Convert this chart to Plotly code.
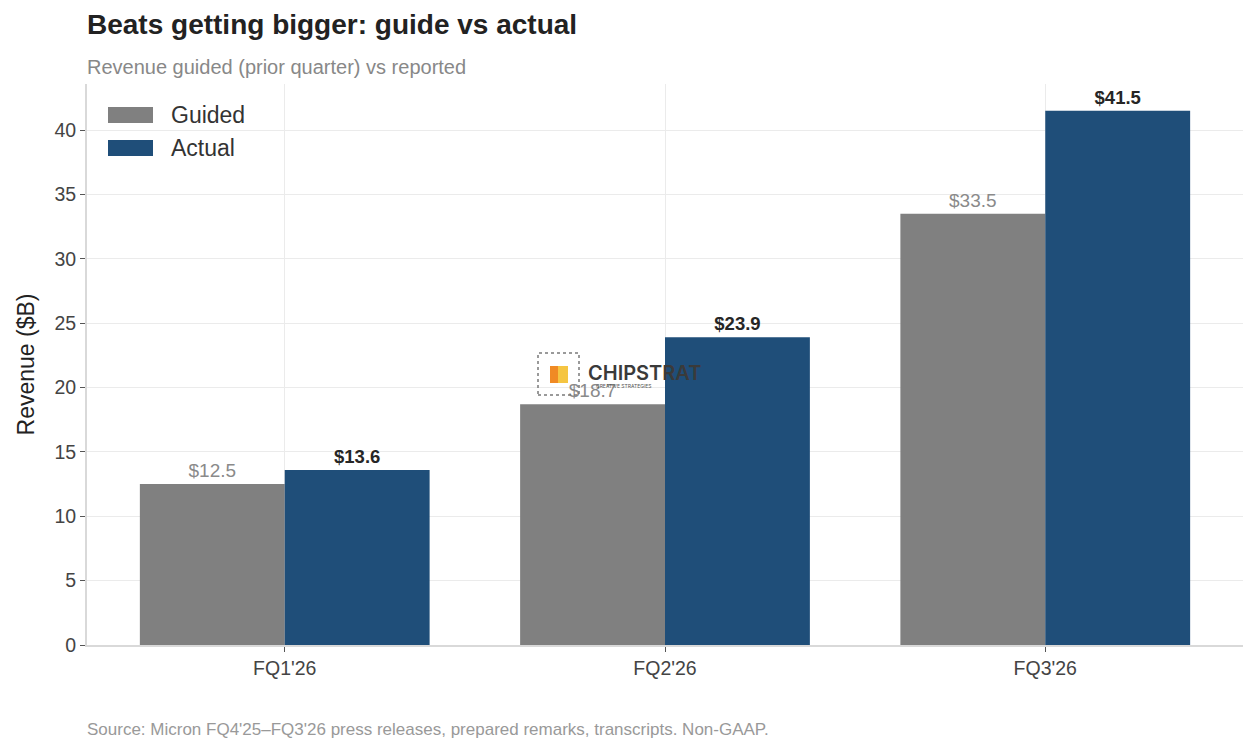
import plotly.graph_objects as go

quarters = ["FQ1'26", "FQ2'26", "FQ3'26"]
guided = [12.5, 18.7, 33.5]
actual = [13.6, 23.9, 41.5]

GRAY = "#808080"
BLUE = "#1f4e79"
FONT = "Arial, Liberation Sans, sans-serif"

L, R, T, B = 87, 14, 84, 108
W, H = 1257, 753
pw = W - L - R
ph = H - T - B


def px(x):
    return (x - L) / pw


def py(y):
    return (H - B - y) / ph


fig = go.Figure()
fig.add_trace(go.Bar(
    name="Guided", x=quarters, y=guided, marker=dict(color=GRAY, line=dict(width=0)),
    text=[f"${v:.1f}" for v in guided], textposition="outside",
    textfont=dict(family=FONT, size=19, color="#8a8a8a"), cliponaxis=False,
))
fig.add_trace(go.Bar(
    name="Actual", x=quarters, y=actual, marker=dict(color=BLUE, line=dict(width=0)),
    text=[f"<b>${v:.1f}</b>" for v in actual], textposition="outside",
    textfont=dict(family=FONT, size=18.5, color="#262626"), cliponaxis=False,
))

ann = []
shapes = []
# title / subtitle / footer
ann.append(dict(text="<b>Beats getting bigger: guide vs actual</b>", xref="paper", yref="paper",
                x=px(85), y=py(25), xanchor="left", yanchor="middle", showarrow=False,
                font=dict(family=FONT, size=28, color="#222222")))
ann.append(dict(text="Revenue guided (prior quarter) vs reported", xref="paper", yref="paper",
                x=px(85), y=py(67), xanchor="left", yanchor="middle", showarrow=False,
                font=dict(family=FONT, size=20, color="#888888")))
ann.append(dict(text="Source: Micron FQ4'25\u2013FQ3'26 press releases, prepared remarks, transcripts. Non-GAAP.",
                xref="paper", yref="paper", x=px(85), y=py(729), xanchor="left", yanchor="middle",
                showarrow=False, font=dict(family=FONT, size=17, color="#999999")))

# custom legend
for name, col, cy in [("Guided", GRAY, 115), ("Actual", BLUE, 148)]:
    shapes.append(dict(type="rect", xref="paper", yref="paper", x0=px(108), x1=px(153),
                       y0=py(cy + 8), y1=py(cy - 8), fillcolor=col, line=dict(width=0)))
    ann.append(dict(text=name, xref="paper", yref="paper", x=px(169), y=py(cy),
                    xanchor="left", yanchor="middle", showarrow=False,
                    font=dict(family=FONT, size=23, color="#333333")))

# watermark
shapes.append(dict(type="rect", xref="paper", yref="paper", x0=px(538), x1=px(579),
                   y0=py(395), y1=py(353), fillcolor="rgba(0,0,0,0)",
                   line=dict(width=1.5, color="#7a7a7a", dash="dot")))
shapes.append(dict(type="rect", xref="paper", yref="paper", x0=px(550), x1=px(568),
                   y0=py(383), y1=py(366), fillcolor="#f5c542", line=dict(width=0)))
shapes.append(dict(type="rect", xref="paper", yref="paper", x0=px(550), x1=px(558),
                   y0=py(383), y1=py(366), fillcolor="#f08a24", line=dict(width=0)))
ann.append(dict(text="CHIPSTRAT", xref="paper", yref="paper", x=px(586), y=py(373),
                xanchor="left", yanchor="middle", showarrow=False,
                font=dict(family="Inter, sans-serif", size=20, weight=600, color="#3a3a3a")))
ann.append(dict(text="CREATIVE STRATEGIES", xref="paper", yref="paper", x=px(594), y=py(386),
                xanchor="left", yanchor="middle", showarrow=False,
                font=dict(family="Inter, sans-serif", size=5, color="#555555")))

fig.update_layout(
    width=W, height=H,
    margin=dict(l=L, r=R, t=T, b=B, pad=0),
    paper_bgcolor="white", plot_bgcolor="white",
    barmode="group", bargap=0.238, bargroupgap=0,
    showlegend=False,
    font=dict(family=FONT, color="#444444"),
    annotations=ann, shapes=shapes,
)
fig.update_xaxes(
    type="category", range=[-0.52, 2.52],
    showgrid=True, gridcolor="#ebebeb", gridwidth=1,
    showline=True, linecolor="#d9d9d9", linewidth=2,
    ticks="outside", ticklen=5, tickcolor="#555555", tickwidth=1,
    tickfont=dict(family=FONT, size=19.5, color="#444444"),
    zeroline=False,
)
fig.update_yaxes(
    range=[0, 43.575], dtick=5, tick0=0,
    showgrid=True, gridcolor="#ebebeb", gridwidth=1,
    showline=True, linecolor="#d9d9d9", linewidth=2,
    ticks="outside", ticklen=5, tickcolor="#555555", tickwidth=1,
    tickfont=dict(family=FONT, size=19.5, color="#444444"),
    title=dict(text="Revenue ($B)", font=dict(family=FONT, size=23, color="#222222"), standoff=13),
    zeroline=False,
)

fig.write_html("out.html")
